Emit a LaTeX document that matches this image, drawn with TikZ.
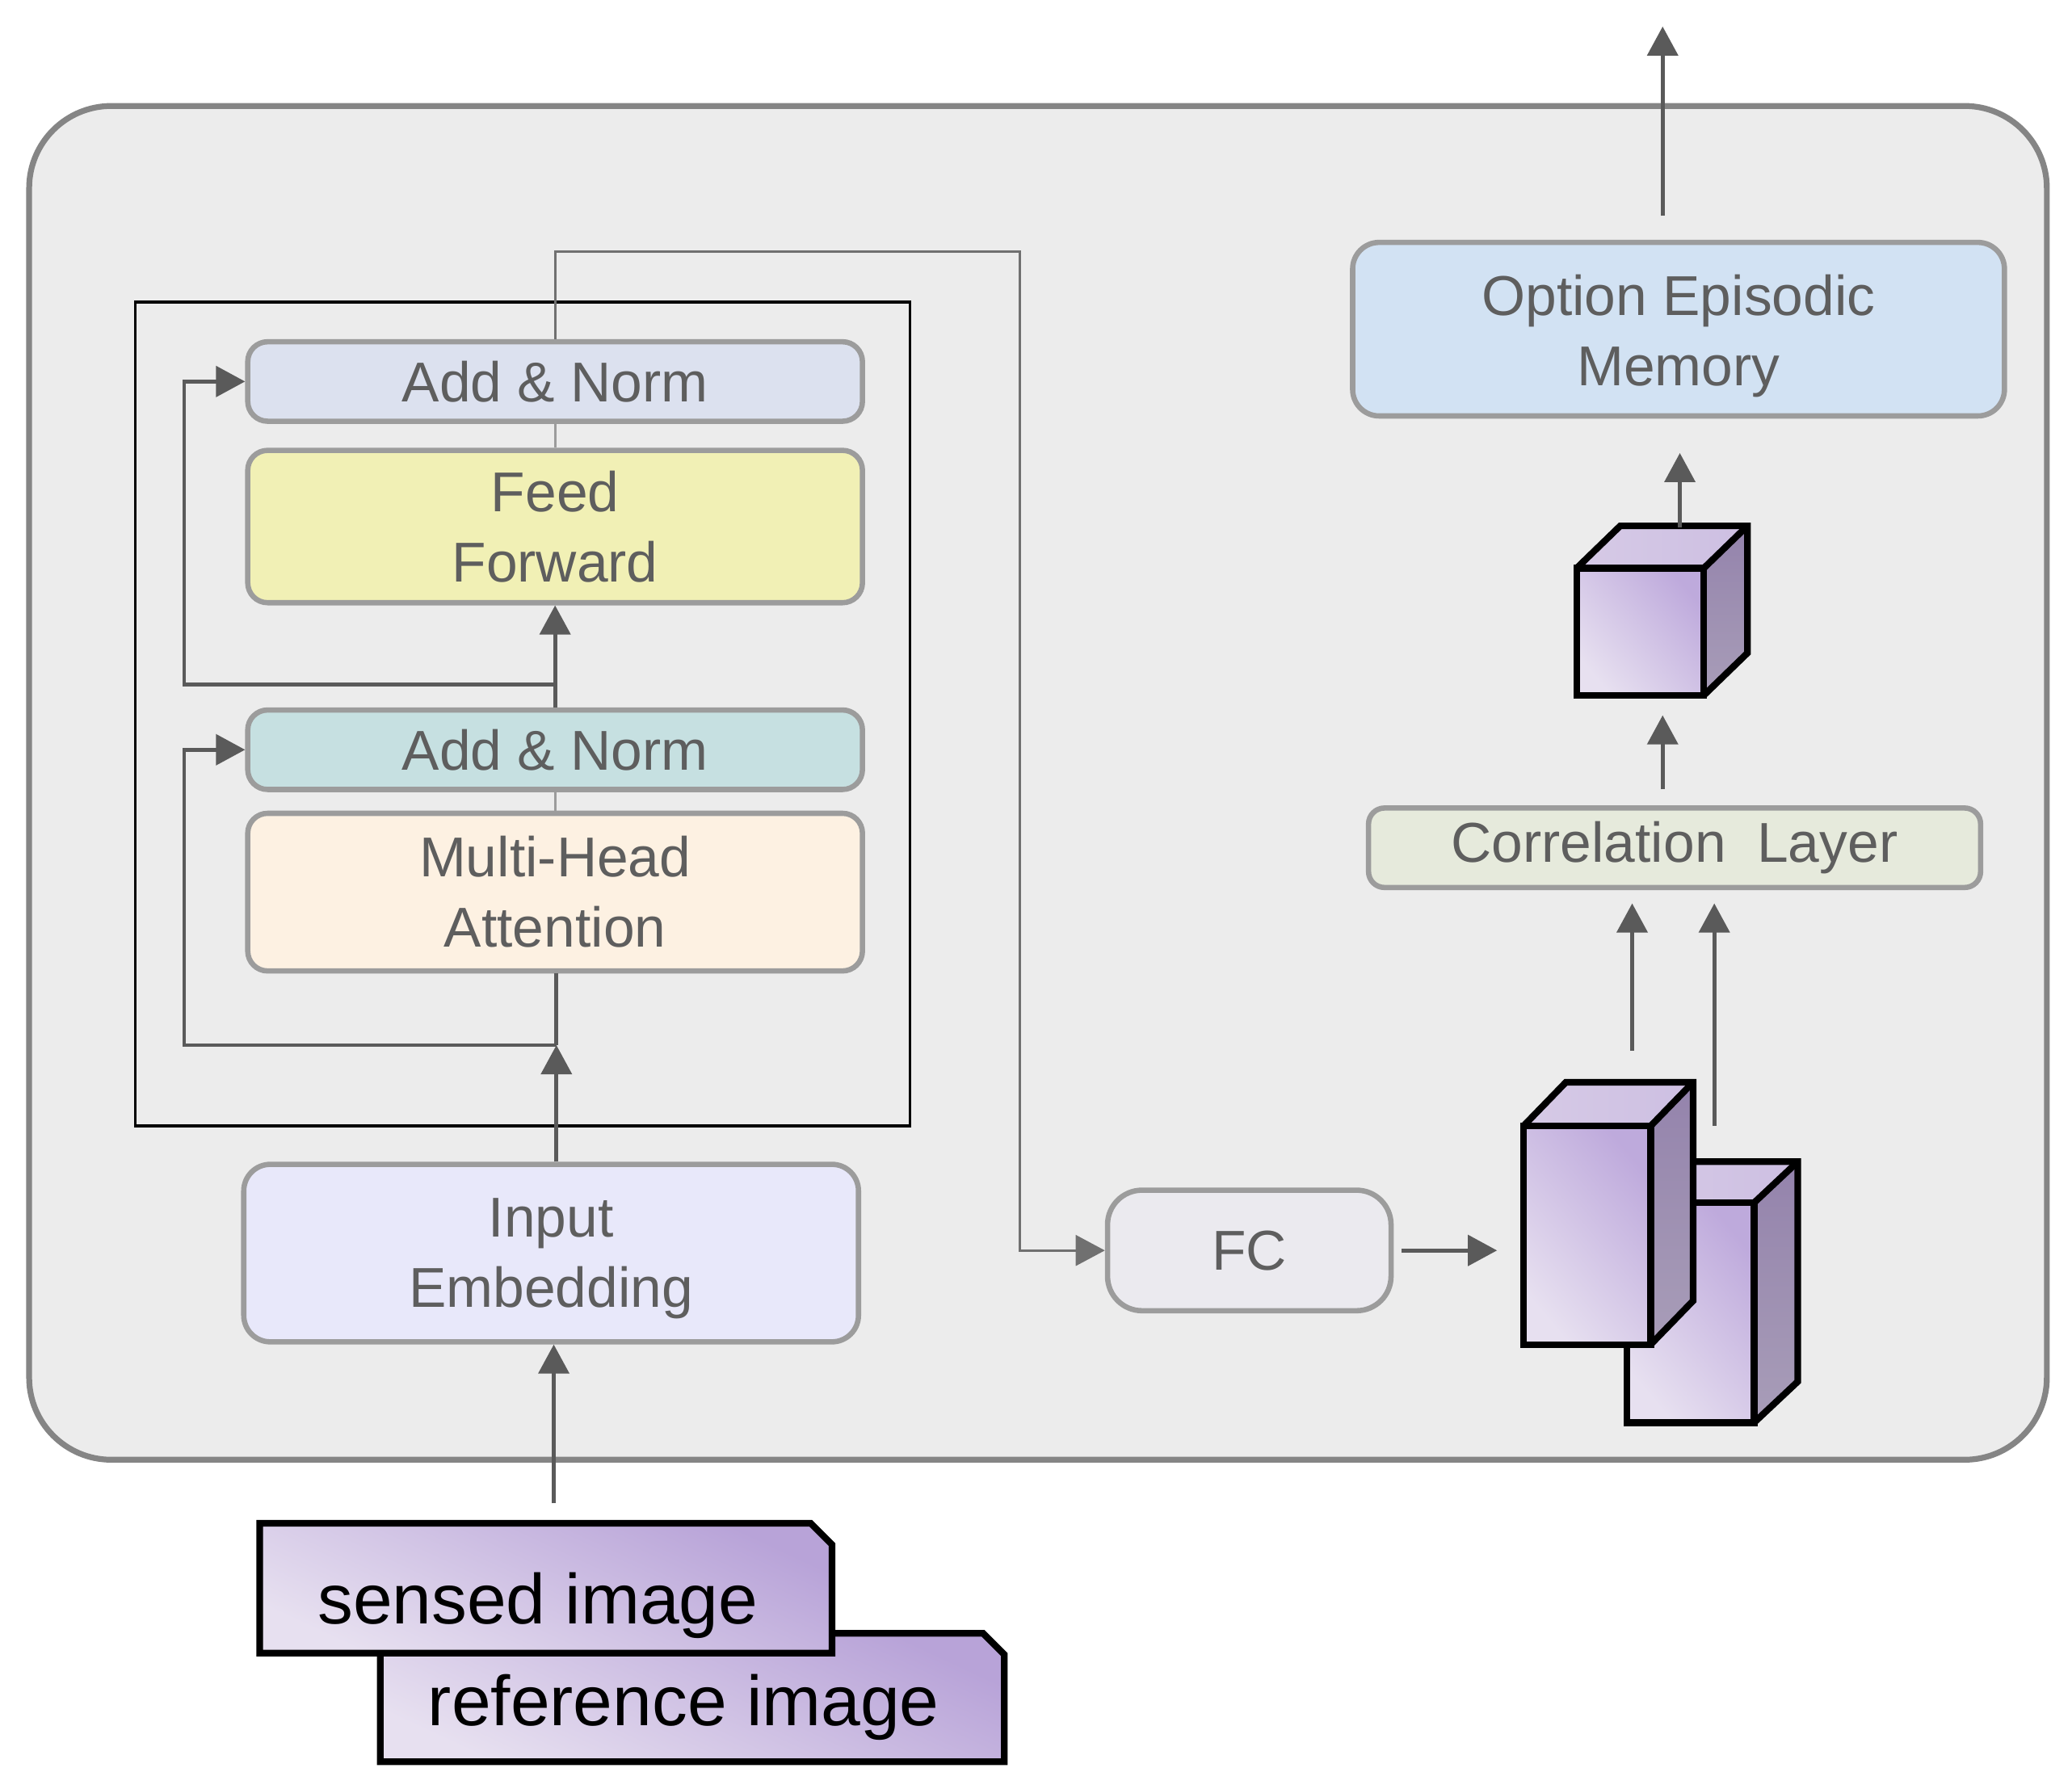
\documentclass[tikz,border=0pt]{standalone}
\usepackage{fontspec}
\setmainfont{Liberation Sans}
\usetikzlibrary{arrows.meta,calc}
\definecolor{outerfill}{HTML}{ECECEC}
\definecolor{outerline}{HTML}{858585}
\definecolor{boxline}{HTML}{9C9C9C}
\definecolor{txt}{HTML}{5E5E5E}
\definecolor{arrc}{HTML}{5A5A5A}
\definecolor{connc}{HTML}{707070}
\definecolor{anA}{HTML}{DCE1EF}
\definecolor{ffc}{HTML}{F1F0B5}
\definecolor{anB}{HTML}{C6E0E1}
\definecolor{mhac}{HTML}{FDF1E2}
\definecolor{iec}{HTML}{E8E8FA}
\definecolor{fcc}{HTML}{EBEAEF}
\definecolor{oemc}{HTML}{D2E2F3}
\definecolor{corrc}{HTML}{E6EADC}
\definecolor{pdark}{HTML}{B39BD6}
\definecolor{tabdark}{HTML}{B8A3D8}
\definecolor{plight}{HTML}{E7E0F0}
\definecolor{sidedark}{HTML}{9483AC}
\definecolor{sidelight}{HTML}{A89DB8}
\definecolor{topc}{HTML}{CDBFE2}
\definecolor{topl}{HTML}{D6CAE6}
\newcommand{\mycuboid}[6]{%
  \shade[bottom color=plight, top color=pdark!85, shading angle=-50] ({#1},{#2}) rectangle ({#1+#3},{#2+#4});
  \shade[left color=topl, right color=topc] ({#1},{#2}) -- ({#1+#5},{#2+#6}) -- ({#1+#3+#5},{#2+#6}) -- ({#1+#3},{#2}) -- cycle;
  \shade[bottom color=sidelight, top color=sidedark] ({#1+#3},{#2}) -- ({#1+#3+#5},{#2+#6}) -- ({#1+#3+#5},{#2+#4+#6}) -- ({#1+#3},{#2+#4}) -- cycle;
  \draw[black, line width=2.5pt] ({#1},{#2}) rectangle ({#1+#3},{#2+#4});
  \draw[black, line width=2.5pt] ({#1},{#2}) -- ({#1+#5},{#2+#6}) -- ({#1+#3+#5},{#2+#6}) -- ({#1+#3+#5},{#2+#4+#6}) -- ({#1+#3},{#2+#4});
  \draw[black, line width=2.5pt] ({#1+#3},{#2}) -- ({#1+#3+#5},{#2+#6});
}
\tikzset{
  blk/.style={draw=boxline, line width=2pt, rounded corners=7.5pt, text=txt,
    font=\fontsize{21.2}{26.5}\selectfont, align=center, inner sep=0pt},
  boxtxt/.style={text=txt, font=\fontsize{21.2}{26.5}\selectfont, align=center, inner sep=0pt},
  arr/.style={draw=arrc, line width=1.5pt, -{Triangle[length=11pt,width=11.5pt]}},
  arrthin/.style={draw=connc, line width=1pt, -{Triangle[length=11pt,width=11.5pt]}},
  conn/.style={draw=boxline, line width=1pt},
  tabtxt/.style={font=\fontsize{26.7}{32}\selectfont, text=black, inner sep=0pt},
  tabshape/.style={draw=black, line width=2.5pt, bottom color=plight, top color=tabdark, shading angle=-25}
}
\begin{document}
\begin{tikzpicture}[x=0.5pt,y=-0.5pt]
\useasboundingbox (0,0) rectangle (1564,1350);

% outer container
\node[draw=outerline, fill=outerfill, line width=2.2pt, rounded corners=31pt,
      minimum width=761.5pt, minimum height=511pt, inner sep=0pt] (outer) at (783.5,591) {};
% encoder frame
\node[draw=black, line width=1pt, minimum width=292.5pt, minimum height=311pt, inner sep=0pt] (enc) at (394.5,539) {};

% boxes
\node[blk, fill=anA, minimum width=232pt, minimum height=30pt] (an1) at (419,288) {Add \& Norm};
\node[blk, fill=ffc, minimum width=232pt, minimum height=57.5pt] (ff) at (419,397.5) {Feed\\Forward};
\node[blk, fill=anB, minimum width=232pt, minimum height=30pt] (an2) at (419,566) {Add \& Norm};
\node[blk, fill=mhac, minimum width=232pt, minimum height=59.5pt] (mha) at (419,673.5) {Multi-Head\\Attention};
\node[blk, fill=iec, rounded corners=10pt, minimum width=232pt, minimum height=67pt] (ie) at (416,946) {};
\node[boxtxt] (ietxt) at (416,950) {Input\\Embedding};
\node[blk, fill=fcc, rounded corners=13pt, minimum width=107pt, minimum height=45.5pt] (fc) at (943,944) {FC};
\node[blk, fill=oemc, rounded corners=10pt, minimum width=246pt, minimum height=65.5pt] (oem) at (1267,248.5) {};
\node[boxtxt] (oemtxt) at (1267,253.5) {Option Episodic\\Memory};
\node[blk, fill=corrc, rounded corners=6pt, minimum width=231pt, minimum height=30pt] (corr) at (1264,640) {Correlation\ \ Layer};

% coordinates
\coordinate (bend) at (770,190);
\coordinate (r1) at (420,517);
\coordinate (r2) at (420,789);
\coordinate (inp) at (418,1135);
\coordinate (fcout) at (1130,944);
\coordinate (outtop) at (1255,20);
\coordinate (cubetop) at (1268,398);
\coordinate (cubebot) at (1255,525);
\coordinate (c1top) at (1232,793);
\coordinate (c2top) at (1294,850);

% encoder internal connectors
\draw[conn] (an1.south) -- (ff.north);
\draw[conn] (an2.south) -- (mha.north);
\draw[arr] (an2.north) -- (ff.south);
\draw[arr] (r1) -- ++(-281,0) |- (an1.west);
\draw[arr] (r2 |- ie.north) -- (r2);
\draw[arrc, line width=1.5pt] (mha.south -| r2) -- (r2);
\draw[arr] (r2) -- ++(-281,0) |- (an2.west);
\draw[arr] (inp) -- (inp |- ie.south);

% to FC
\draw[arrthin] (an1.north) |- (bend) |- (fc.west);
\draw[arr] ([xshift=3pt]fc.east) -- (fcout);

% cuboids
\mycuboid{1228}{908}{96}{166}{33}{-31}
\mycuboid{1150}{850}{96}{165}{32}{-33}
\mycuboid{1190}{429}{96}{96}{33}{-32}

% right column arrows
\draw[arr, shorten >=5pt] (c1top) -- (c1top |- corr.south);
\draw[arr, shorten >=5pt] (c2top) -- (c2top |- corr.south);
\draw[arr, shorten <=6pt, shorten >=7.5pt] (corr.north -| cubebot) -- (cubebot);
\draw[arr, shorten >=13pt] (cubetop) -- (cubetop |- oem.south);
\draw[arr] ([yshift=9pt]oem.north -| outtop) -- (outtop);

% input tabs
\path[tabshape] (287,1233) -- (742,1233) -- (758,1249) -- (758,1330) -- (287,1330) -- cycle;
\path[tabshape] (196,1150) -- (612,1150) -- (628,1166) -- (628,1248) -- (196,1248) -- cycle;
\node[tabtxt] (sensed) at (406,1212) {sensed image};
\node[tabtxt] (refimg) at (516,1289) {reference image};
\end{tikzpicture}
\end{document}
